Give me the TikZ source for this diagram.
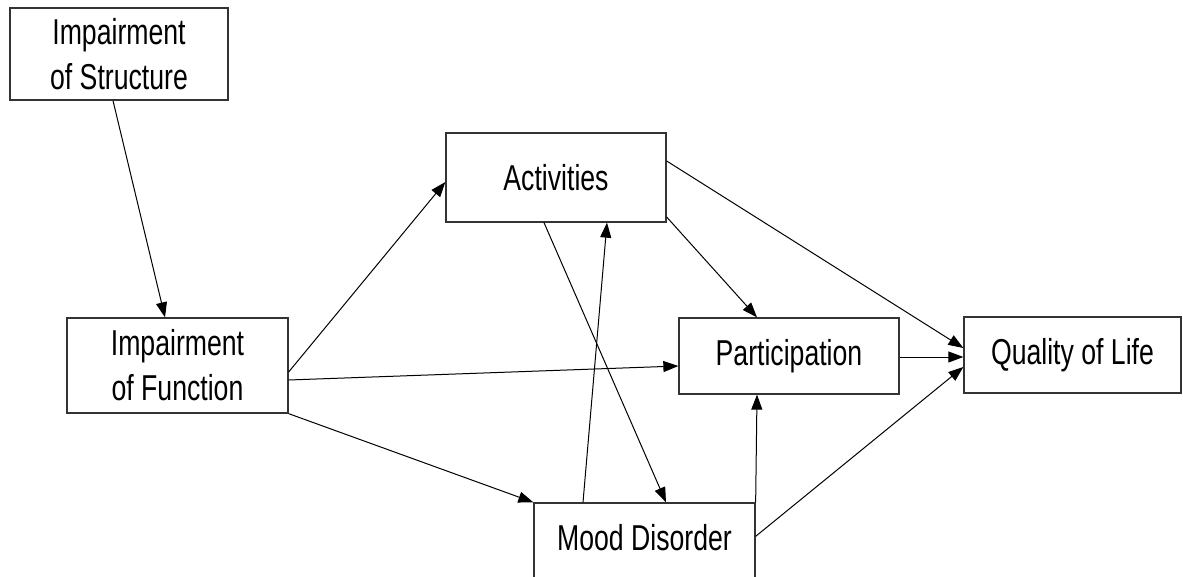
\documentclass[tikz,border=0pt]{standalone}
\usepackage{fontspec}
\setmainfont{Liberation Sans}[FakeStretch=0.74]
\usetikzlibrary{arrows.meta,calc}
\tikzset{
  box/.style={draw=black!80, line width=1.3pt, rectangle, inner sep=0pt, align=center,
    font=\fontsize{36}{45}\selectfont},
  conn/.style={line width=1pt, -{Triangle[length=15pt,width=11pt]}}
}
\begin{document}
\begin{tikzpicture}[x=1pt,y=-1pt]
\clip (0,0) rectangle (1183,577);
\fill[white] (0,0) rectangle (1183,577);
\node[box, minimum width=218pt, minimum height=92pt] (S) at (119,54) {Impairment\\of Structure};
\node[box, minimum width=221pt, minimum height=95pt] (F) at (177.5,365.5) {Impairment\\of Function};
\node[box, minimum width=220pt, minimum height=89pt] (A) at (556,177.5) {Activities};
\node[box, minimum width=220pt, minimum height=76pt] (P) at (789,356) {Participation};
\node[box, minimum width=217pt, minimum height=76pt] (Q) at (1072.5,355) {Quality of Life};
\node[box, minimum width=221pt, minimum height=90pt, text height=25pt, text depth=20pt] (M) at (644.5,548) {Mood Disorder};

\draw[conn] ($(S.south)+(-6,0)$) -- ($(F.north)+(-12.5,0)$);
\draw[conn] ($(F.east)+(0,6.5)$) -- ($(A.west)+(0,4.5)$);
\draw[conn] ($(F.east)+(0,14.5)$) -- ($(P.west)+(0,10)$);
\draw[conn] (F.south east) -- (M.north west);
\draw[conn] ($(A.south)+(-12,0)$) -- ($(M.north)+(21.5,0)$);
\draw[conn] ($(M.north)+(-61.5,0)$) -- ($(A.south)+(51,0)$);
\draw[conn] ($(A.east)+(0,-16.5)$) -- ($(Q.west)+(0,-7)$);
\draw[conn] ($(A.east)+(0,39.5)$) -- ($(P.north)+(-32,0)$);
\draw[conn] ($(P.east)+(0,1)$) -- ($(Q.west)+(0,2)$);
\draw[conn] ($(M.north east)+(0,34)$) -- ($(Q.west)+(0,12)$);
\draw[conn] (M.north east) -- ($(P.south)+(-32,0)$);
\end{tikzpicture}
\end{document}
